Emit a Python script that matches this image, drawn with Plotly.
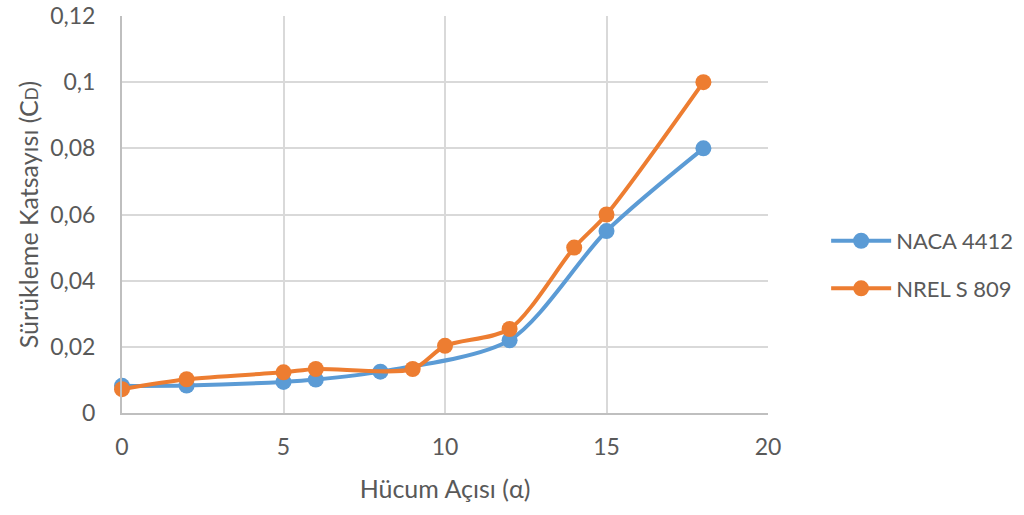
import plotly.graph_objects as go

naca_x = [0, 2, 5, 6, 8, 12, 15, 18]
naca_y = [0.0082, 0.0083, 0.0094, 0.0101, 0.0125, 0.022, 0.055, 0.08]
nrel_x = [0, 2, 5, 6, 9, 10, 12, 14, 15, 18]
nrel_y = [0.0072, 0.0102, 0.0123, 0.0133, 0.0133, 0.0203, 0.0254, 0.05, 0.06, 0.1]
series_names = ["NACA 4412", "NREL S 809"]
colors = ["#5B9BD5", "#ED7D31"]
x_ticks = [0, 5, 10, 15, 20]
y_ticks = [0, 0.02, 0.04, 0.06, 0.08, 0.1, 0.12]

FONT = "Lato, 'Open Sans', sans-serif"
TXT = "#595959"

fig = go.Figure()
for name, xs, ys, c in zip(series_names, [naca_x, nrel_x], [naca_y, nrel_y], colors):
    fig.add_trace(go.Scatter(
        x=xs, y=ys, name=name, mode="lines+markers",
        line=dict(color=c, width=4, shape="spline", smoothing=0.8),
        marker=dict(color=c, size=16),
        legendgroup=name, cliponaxis=False,
    ))

fig.update_layout(
    width=1024, height=515,
    margin=dict(l=122, r=256, t=16, b=102, autoexpand=False),
    paper_bgcolor="white", plot_bgcolor="white",
    separators=",.",
    font=dict(family=FONT, size=23, color=TXT),
    legend=dict(x=1.09, y=0.373, xanchor="left", yanchor="middle",
                font=dict(size=22, color=TXT), tracegroupgap=16,
                itemwidth=60),
    showlegend=True,
)
fig.update_xaxes(
    range=[0, 20], tickvals=x_ticks, showgrid=True, gridcolor="#D9D9D9", gridwidth=2,
    showline=True, linecolor="#BFBFBF", linewidth=2, zeroline=False,
    ticks="", ticklabelstandoff=12, automargin=False,
    title=dict(text="Hücum Açısı (α)", font=dict(size=25, color=TXT), standoff=22),
)
fig.update_yaxes(
    range=[0, 0.12], tickvals=y_ticks, showgrid=True, gridcolor="#D9D9D9", gridwidth=2,
    showline=True, linecolor="#BFBFBF", linewidth=2, zeroline=False,
    ticks="", ticklabelstandoff=20, automargin=False,
    title=dict(text="Sürükleme Katsayısı (C<span style='font-size:17px'>D</span>)",
               font=dict(size=25, color=TXT), standoff=4),
)

fig.write_html("out.html")
